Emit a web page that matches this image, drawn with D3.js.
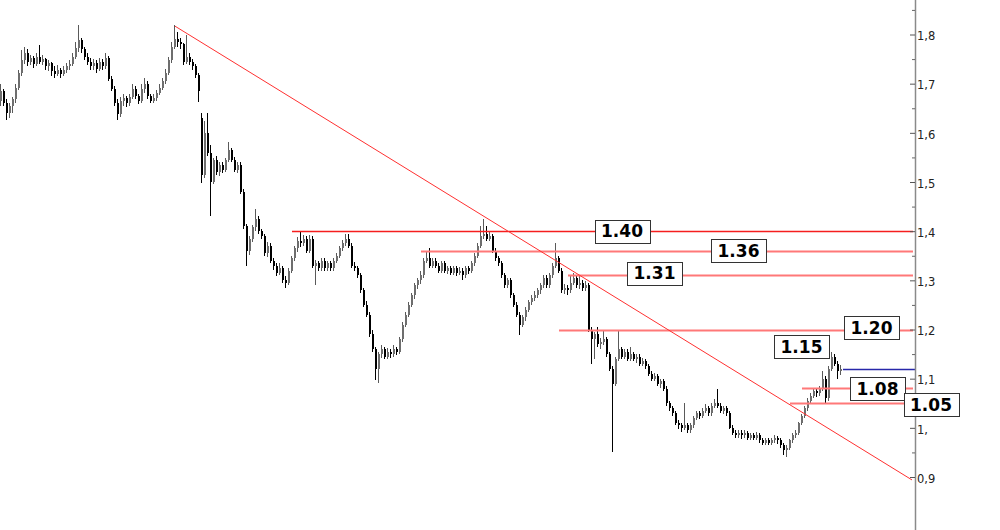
<!DOCTYPE html>
<html><head><meta charset="utf-8">
<script src="https://cdn.jsdelivr.net/npm/d3@7"></script>
<style>html,body{margin:0;padding:0;background:#fff;}svg{display:block;}</style>
</head><body>
<svg id="chart" width="1000" height="530"></svg>
<script>
// ---- data ----
// candles: [open, high, low, close]
const candles = [
[1.665,1.700,1.655,1.685],[1.685,1.690,1.655,1.660],[1.660,1.668,1.626,1.640],[1.640,1.660,1.630,1.655],
[1.655,1.672,1.640,1.668],[1.668,1.700,1.660,1.692],[1.692,1.728,1.688,1.722],[1.722,1.768,1.715,1.748],
[1.748,1.775,1.740,1.762],[1.762,1.770,1.735,1.745],[1.745,1.758,1.738,1.752],[1.752,1.756,1.732,1.740],
[1.740,1.762,1.735,1.755],[1.755,1.779,1.740,1.745],[1.745,1.758,1.738,1.750],[1.750,1.752,1.728,1.735],
[1.735,1.748,1.725,1.742],[1.742,1.745,1.715,1.725],[1.725,1.735,1.712,1.720],[1.720,1.738,1.715,1.728],
[1.728,1.732,1.712,1.720],[1.720,1.735,1.715,1.728],[1.728,1.742,1.722,1.735],[1.735,1.748,1.728,1.740],
[1.740,1.762,1.735,1.755],[1.755,1.785,1.750,1.772],[1.772,1.820,1.765,1.788],[1.788,1.792,1.762,1.770],
[1.770,1.775,1.748,1.755],[1.755,1.762,1.738,1.745],[1.745,1.752,1.728,1.735],[1.735,1.750,1.728,1.742],
[1.742,1.748,1.722,1.730],[1.730,1.752,1.725,1.745],[1.745,1.750,1.728,1.735],[1.735,1.762,1.730,1.752],
[1.752,1.756,1.705,1.710],[1.710,1.715,1.685,1.690],[1.690,1.695,1.655,1.660],[1.660,1.668,1.626,1.638],
[1.638,1.672,1.632,1.665],[1.665,1.680,1.655,1.670],[1.670,1.675,1.652,1.660],[1.660,1.680,1.655,1.672],
[1.672,1.700,1.668,1.690],[1.690,1.695,1.668,1.675],[1.675,1.680,1.658,1.665],[1.665,1.700,1.660,1.690],
[1.690,1.712,1.682,1.700],[1.700,1.705,1.668,1.675],[1.675,1.680,1.660,1.665],[1.665,1.678,1.660,1.670],
[1.670,1.688,1.665,1.682],[1.682,1.700,1.676,1.692],[1.692,1.712,1.688,1.705],[1.705,1.730,1.700,1.722],
[1.722,1.755,1.718,1.748],[1.748,1.785,1.742,1.775],[1.775,1.820,1.770,1.790],[1.790,1.805,1.775,1.785],
[1.785,1.792,1.770,1.780],[1.780,1.782,1.738,1.745],[1.745,1.800,1.740,1.755],[1.755,1.762,1.738,1.745],
[1.745,1.750,1.728,1.735],[1.735,1.740,1.712,1.718],[1.718,1.722,1.662,1.685],[1.630,1.640,1.498,1.515],
[1.515,1.625,1.508,1.600],[1.600,1.640,1.552,1.560],[1.560,1.575,1.430,1.500],[1.500,1.548,1.495,1.545],
[1.545,1.552,1.515,1.520],[1.520,1.540,1.512,1.535],[1.535,1.540,1.518,1.525],[1.525,1.548,1.520,1.545],
[1.545,1.582,1.540,1.565],[1.565,1.570,1.540,1.545],[1.545,1.550,1.520,1.525],[1.525,1.540,1.518,1.535],
[1.535,1.540,1.475,1.480],[1.480,1.485,1.405,1.410],[1.410,1.415,1.330,1.360],[1.360,1.390,1.352,1.385],
[1.385,1.412,1.378,1.408],[1.408,1.445,1.400,1.425],[1.425,1.430,1.395,1.400],[1.400,1.405,1.385,1.390],
[1.390,1.395,1.350,1.355],[1.355,1.378,1.348,1.370],[1.370,1.375,1.335,1.340],[1.340,1.345,1.322,1.330],
[1.330,1.335,1.308,1.315],[1.315,1.335,1.310,1.325],[1.325,1.330,1.295,1.300],[1.300,1.308,1.285,1.295],
[1.295,1.325,1.290,1.320],[1.320,1.350,1.315,1.345],[1.345,1.370,1.340,1.365],[1.365,1.388,1.358,1.380],
[1.380,1.400,1.368,1.375],[1.375,1.392,1.370,1.385],[1.385,1.390,1.355,1.360],[1.360,1.392,1.355,1.385],
[1.385,1.390,1.325,1.330],[1.330,1.342,1.290,1.335],[1.335,1.340,1.318,1.325],[1.325,1.345,1.320,1.340],
[1.340,1.345,1.320,1.325],[1.325,1.340,1.318,1.335],[1.335,1.340,1.318,1.325],[1.325,1.345,1.320,1.340],
[1.340,1.355,1.335,1.350],[1.350,1.370,1.345,1.365],[1.365,1.382,1.360,1.375],[1.375,1.395,1.370,1.385],
[1.385,1.395,1.365,1.370],[1.370,1.375,1.325,1.330],[1.330,1.338,1.318,1.325],[1.325,1.330,1.305,1.310],
[1.310,1.315,1.275,1.280],[1.280,1.285,1.245,1.250],[1.250,1.258,1.225,1.230],[1.230,1.235,1.185,1.190],
[1.190,1.198,1.155,1.160],[1.160,1.165,1.098,1.120],[1.120,1.155,1.091,1.150],[1.150,1.168,1.142,1.160],
[1.160,1.165,1.140,1.145],[1.145,1.162,1.140,1.155],[1.155,1.160,1.142,1.150],[1.150,1.168,1.145,1.160],
[1.160,1.165,1.148,1.155],[1.155,1.185,1.150,1.180],[1.180,1.215,1.175,1.210],[1.210,1.235,1.205,1.230],
[1.230,1.255,1.225,1.250],[1.250,1.275,1.245,1.270],[1.270,1.295,1.262,1.290],[1.290,1.305,1.282,1.300],
[1.300,1.318,1.292,1.310],[1.310,1.345,1.305,1.340],[1.340,1.360,1.335,1.345],[1.345,1.365,1.325,1.330],
[1.330,1.345,1.325,1.340],[1.340,1.345,1.325,1.330],[1.330,1.335,1.315,1.320],[1.320,1.340,1.315,1.335],
[1.335,1.340,1.315,1.320],[1.320,1.330,1.312,1.325],[1.325,1.330,1.310,1.315],[1.315,1.330,1.310,1.325],
[1.325,1.330,1.308,1.315],[1.315,1.328,1.310,1.320],[1.320,1.325,1.300,1.310],[1.310,1.330,1.305,1.325],
[1.325,1.330,1.312,1.320],[1.320,1.340,1.315,1.335],[1.335,1.355,1.330,1.350],[1.350,1.375,1.345,1.370],
[1.370,1.410,1.365,1.390],[1.390,1.425,1.385,1.395],[1.395,1.410,1.380,1.385],[1.385,1.400,1.380,1.390],
[1.390,1.395,1.355,1.360],[1.360,1.365,1.340,1.345],[1.345,1.350,1.330,1.335],[1.335,1.340,1.305,1.310],
[1.310,1.315,1.285,1.290],[1.290,1.305,1.285,1.300],[1.300,1.305,1.265,1.270],[1.270,1.275,1.245,1.250],
[1.250,1.255,1.225,1.230],[1.230,1.235,1.188,1.210],[1.210,1.230,1.205,1.225],[1.225,1.245,1.218,1.240],
[1.240,1.260,1.235,1.255],[1.255,1.270,1.250,1.265],[1.265,1.278,1.258,1.270],[1.270,1.285,1.265,1.280],
[1.280,1.295,1.272,1.290],[1.290,1.310,1.285,1.305],[1.305,1.310,1.285,1.290],[1.290,1.315,1.285,1.310],
[1.310,1.335,1.305,1.330],[1.330,1.375,1.325,1.345],[1.345,1.350,1.315,1.320],[1.320,1.325,1.275,1.280],
[1.280,1.292,1.272,1.285],[1.285,1.290,1.270,1.280],[1.280,1.310,1.275,1.295],[1.295,1.315,1.290,1.305],
[1.305,1.310,1.285,1.290],[1.290,1.310,1.282,1.295],[1.295,1.300,1.278,1.285],[1.285,1.298,1.278,1.290],
[1.290,1.295,1.195,1.200],[1.200,1.205,1.130,1.180],[1.180,1.195,1.140,1.190],[1.190,1.205,1.165,1.170],
[1.170,1.182,1.160,1.175],[1.175,1.200,1.168,1.180],[1.180,1.185,1.145,1.150],[1.150,1.155,1.115,1.120],
[1.120,1.125,0.950,1.090],[1.090,1.145,1.085,1.140],[1.140,1.200,1.135,1.160],[1.160,1.165,1.140,1.145],
[1.145,1.160,1.140,1.155],[1.155,1.160,1.135,1.140],[1.140,1.165,1.135,1.150],[1.150,1.155,1.135,1.140],
[1.140,1.150,1.132,1.145],[1.145,1.150,1.125,1.130],[1.130,1.142,1.125,1.135],[1.135,1.140,1.120,1.125],
[1.125,1.130,1.105,1.110],[1.110,1.115,1.095,1.100],[1.100,1.112,1.095,1.105],[1.105,1.110,1.085,1.090],
[1.090,1.100,1.082,1.095],[1.095,1.100,1.075,1.080],[1.080,1.085,1.045,1.050],[1.050,1.055,1.035,1.040],
[1.040,1.045,1.025,1.030],[1.030,1.035,1.005,1.010],[1.010,1.015,0.998,1.005],[1.005,1.010,0.992,1.000],
[1.000,1.050,0.995,1.005],[1.005,1.010,0.990,0.995],[0.995,1.010,0.990,1.005],[1.005,1.025,1.000,1.020],
[1.020,1.035,1.015,1.030],[1.030,1.035,1.018,1.025],[1.025,1.040,1.020,1.035],[1.035,1.048,1.030,1.040],
[1.040,1.045,1.025,1.030],[1.030,1.050,1.025,1.045],[1.045,1.058,1.040,1.050],[1.050,1.080,1.040,1.045],
[1.045,1.050,1.030,1.035],[1.035,1.045,1.028,1.040],[1.040,1.045,1.025,1.030],[1.030,1.035,0.998,1.000],
[1.000,1.005,0.985,0.990],[0.990,0.995,0.980,0.985],[0.985,0.995,0.980,0.990],[0.990,0.995,0.978,0.985],
[0.985,0.995,0.980,0.990],[0.990,0.994,0.975,0.980],[0.980,0.990,0.976,0.985],[0.985,0.990,0.975,0.980],
[0.980,0.992,0.976,0.985],[0.985,0.990,0.970,0.975],[0.975,0.980,0.965,0.970],[0.970,0.980,0.966,0.975],
[0.975,0.980,0.965,0.970],[0.970,0.980,0.966,0.975],[0.975,0.985,0.970,0.980],[0.980,0.984,0.968,0.975],
[0.975,0.980,0.960,0.965],[0.965,0.970,0.945,0.955],[0.955,0.965,0.940,0.960],[0.960,0.978,0.955,0.975],
[0.975,0.990,0.970,0.985],[0.985,0.995,0.980,0.990],[0.990,1.012,0.985,1.010],[1.010,1.028,1.005,1.025],
[1.025,1.045,1.020,1.040],[1.040,1.060,1.035,1.055],[1.055,1.070,1.050,1.065],[1.065,1.080,1.060,1.075],
[1.075,1.080,1.062,1.070],[1.070,1.085,1.065,1.080],[1.080,1.115,1.075,1.100],[1.100,1.105,1.050,1.060],
[1.060,1.125,1.055,1.120],[1.120,1.155,1.115,1.145],[1.145,1.150,1.125,1.130],[1.130,1.135,1.100,1.115],
[1.115,1.128,1.108,1.120]
];

// support/resistance levels: price and starting candle index
const levelValues = [1.40, 1.36, 1.31, 1.20, 1.08, 1.05];
const levelStart  = [97, 140, 189, 186, 267, 263];
const levelWide   = [false, true, true, true, true, true];

// level labels
const labelTexts = ["1.40", "1.36", "1.31", "1.20", "1.15", "1.08", "1.05"];
// trend line: [candle index, price]
const trendStart = [58, 1.817];
const trendEnd   = [303.67, 0.894];
// last price line
const lastPrice = 1.12;

// y axis ticks
const yTickValues = [0.9, 1.0, 1.1, 1.2, 1.3, 1.4, 1.5, 1.6, 1.7, 1.8];
const yTickLabels = ["0,9", "1,", "1,1", "1,2", "1,3", "1,4", "1,5", "1,6", "1,7", "1,8"];
const yMinorTicks = [0.95, 1.05, 1.15, 1.25, 1.35, 1.45, 1.55, 1.65, 1.75, 1.85];

// ---- layout (pixel positions of label boxes) ----
const labelLayout = [
  {cx: 622, cy: 231}, {cx: 738.5, cy: 250.5}, {cx: 654.5, cy: 273}, {cx: 871.5, cy: 327.5},
  {cx: 801.5, cy: 346.5}, {cx: 877.5, cy: 388.5}, {cx: 931, cy: 404.5}
];

const svg = d3.select("#chart");
const axisX = 915;
const x = d3.scaleLinear().domain([0, 303.67]).range([1, 912]);
const y = d3.scaleLinear().domain([0.9, 1.8]).range([477, 34.5]);

// candles
const cg = svg.append("g").attr("shape-rendering", "crispEdges");
const bodyW = 2;
candles.forEach((c, i) => {
  const [o, h, l, cl] = c;
  const up = cl >= o;
  const cx = Math.round(x(i));
  cg.append("line")
    .attr("x1", cx - 0.5).attr("x2", cx - 0.5)
    .attr("y1", y(h)).attr("y2", y(l))
    .attr("stroke", up ? "#5a5a5a" : "#000").attr("stroke-width", 1);
  const top = y(Math.max(o, cl)), bot = y(Math.min(o, cl));
  cg.append("rect")
    .attr("x", cx - 1).attr("width", bodyW)
    .attr("y", top).attr("height", Math.max(1, bot - top))
    .attr("fill", up ? "#6e6e6e" : "#000");
});

// level lines
const lg = svg.append("g");
levelValues.forEach((v, k) => {
  lg.append("line")
    .attr("x1", x(levelStart[k])).attr("x2", axisX - 2)
    .attr("y1", Math.round(y(v)) + 0.5).attr("y2", Math.round(y(v)) + 0.5)
    .style("stroke", levelWide[k] ? "rgb(255,120,120)" : "rgb(245,30,30)")
    .attr("stroke-width", levelWide[k] ? 1.8 : 1.5);
});

// last price line
lg.append("line")
  .attr("x1", x(candles.length - 1) + 2).attr("x2", axisX)
  .attr("y1", Math.round(y(lastPrice)) + 0.5).attr("y2", Math.round(y(lastPrice)) + 0.5)
  .style("stroke", "rgb(40,40,170)").attr("stroke-width", 1.5);

// trend line
lg.append("line")
  .attr("x1", x(trendStart[0])).attr("y1", y(trendStart[1]))
  .attr("x2", x(trendEnd[0])).attr("y2", y(trendEnd[1]))
  .style("stroke", "rgb(255,48,48)").attr("stroke-width", 1);

// y axis
const ax = svg.append("g").attr("transform", `translate(${axisX},0)`);
ax.append("line").attr("x1", 0.5).attr("x2", 0.5).attr("y1", 0).attr("y2", 530)
  .attr("stroke", "#8a8a8a").attr("stroke-width", 1.5);
const major = d3.axisRight(y).tickValues(yTickValues)
  .tickSize(-5).tickPadding(3)
  .tickFormat((d, i) => yTickLabels[i]);
const mg = ax.append("g").call(major);
mg.select(".domain").remove();
mg.selectAll(".tick line").attr("stroke", "#555").attr("x2", -5);
mg.selectAll(".tick text")
  .attr("x", 2).attr("dy", "0.45em")
  .style("font-family", "'DejaVu Sans', Verdana, sans-serif")
  .style("font-size", "11.5px").attr("fill", "#222");
const minor = d3.axisRight(y).tickValues(yMinorTicks).tickSize(-3).tickFormat("");
const ng = ax.append("g").call(minor);
ng.select(".domain").remove();
ng.selectAll(".tick line").attr("stroke", "#666");

// label boxes
const bg = svg.append("g");
labelTexts.forEach((t, k) => {
  const p = labelLayout[k];
  const g = bg.append("g");
  const rect = g.append("rect").attr("fill", "#fff").attr("stroke", "#333").attr("stroke-width", 1);
  const txt = g.append("text").text(t)
    .attr("x", p.cx).attr("y", p.cy)
    .attr("text-anchor", "middle").attr("dominant-baseline", "central")
    .style("font-family", "'DejaVu Sans', Verdana, sans-serif")
    .style("font-weight", "bold").style("font-size", "17px").attr("fill", "#000");
  const bb = txt.node().getBBox();
  const w = Math.round(bb.width + 13), h = 23;
  rect.attr("x", Math.round(p.cx - w / 2) + 0.5).attr("y", Math.round(p.cy - h / 2) + 0.5)
    .attr("width", w).attr("height", h);
});
</script>
</body></html>
